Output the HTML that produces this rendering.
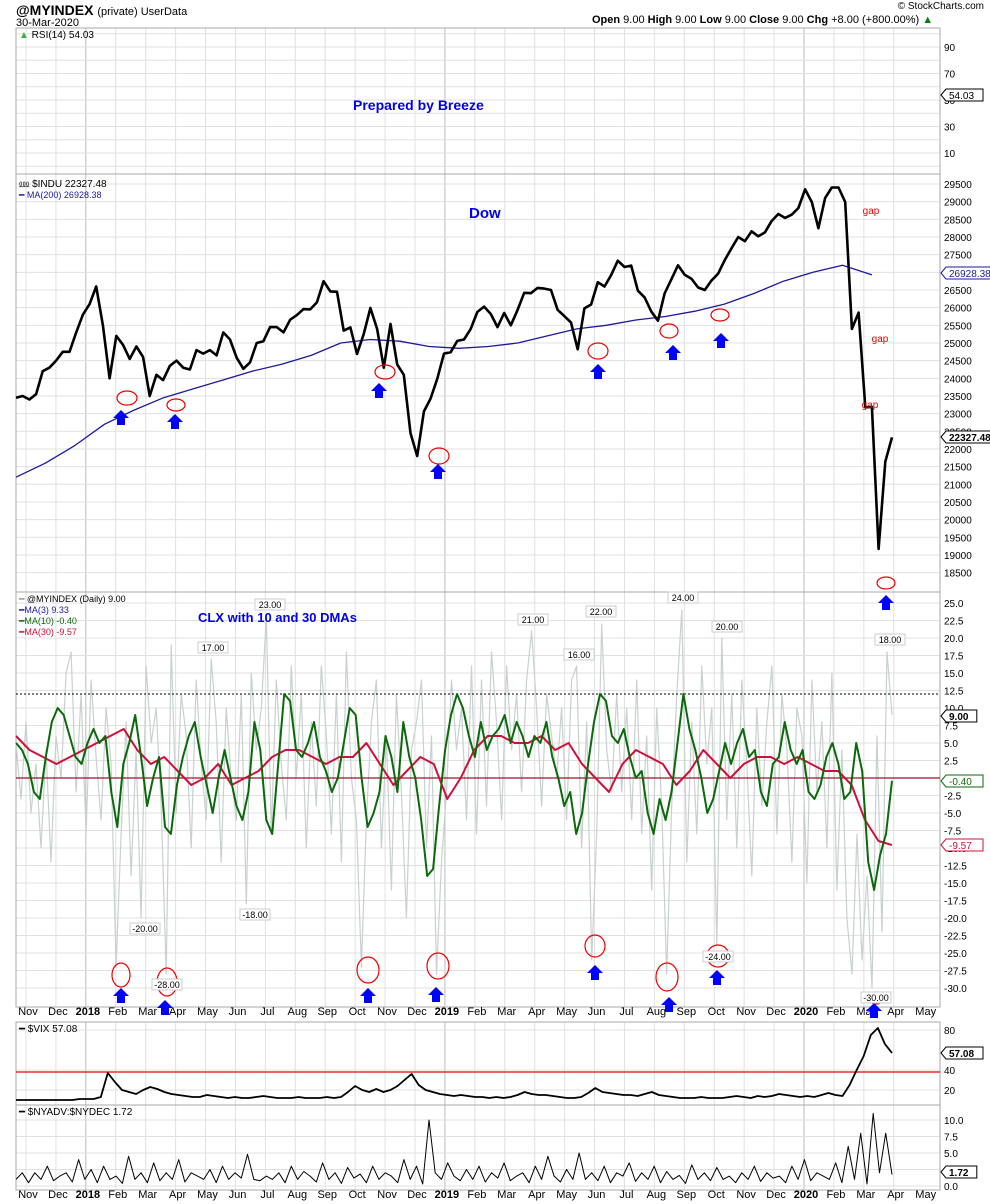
<!DOCTYPE html>
<html><head><meta charset="utf-8"><style>
body{margin:0;background:#fff}
svg{display:block;font-family:"Liberation Sans",sans-serif}
</style></head><body>
<svg id="c" width="990" height="1204" viewBox="0 0 990 1204" xmlns="http://www.w3.org/2000/svg"></svg>
<script>
// ---- data ----
const monthLabels=["Nov","Dec","2018","Feb","Mar","Apr","May","Jun","Jul","Aug","Sep","Oct","Nov","Dec","2019","Feb","Mar","Apr","May","Jun","Jul","Aug","Sep","Oct","Nov","Dec","2020","Feb","Mar","Apr","May"];
const dowWeekly=[23450,23500,23400,23550,24200,24300,24500,24750,24750,25300,25800,26100,26600,25500,24000,25200,24950,24550,24900,24600,23500,24100,23950,24350,24500,24300,24250,24800,24700,24800,24650,25300,25100,24580,24270,24450,25000,25050,25450,25450,25300,25660,25790,25960,25950,26150,26750,26460,26450,25350,25440,24690,25250,25990,25400,24300,25540,24390,24100,22450,21800,23060,23430,23990,24700,24740,25060,25100,25400,25880,26030,25820,25450,25850,25500,25930,26420,26410,26560,26540,26500,25940,25760,25580,24820,25980,26090,26720,26600,26920,27330,27150,27190,26480,26290,25890,25630,26400,26800,27200,26930,26820,26570,26500,26770,26960,27350,27680,28000,27880,28160,28020,28130,28450,28650,28540,28630,28820,29350,28990,28250,29100,29400,29400,28990,25400,25860,23180,23190,19170,21640,22330];
const ma200Monthly=[21200,21600,22100,22700,23100,23450,23700,23950,24200,24400,24650,25000,25100,25050,24900,24850,24900,25000,25200,25400,25500,25650,25750,25900,26100,26400,26750,27000,27200,26928];
const clxDaily=[5,-3,8,-5,2,-10,4,-12,6,0,15,18,-2,12,-8,14,3,-6,10,2,-27,-8,8,-14,4,-20,16,5,10,-4,-28,19,-5,12,6,-10,14,2,-6,17,8,-12,10,0,-6,12,-18,15,4,10,23,-8,14,2,-6,16,0,12,-10,8,-4,16,6,-8,12,-12,18,0,-6,-27,-6,8,14,-10,6,-16,12,-2,-20,4,8,14,-10,6,-28,-12,-2,14,4,10,-6,16,-8,14,-4,18,8,-6,16,4,12,-2,14,21,10,-4,12,6,0,10,-6,14,16,-10,8,-26,-8,22,4,-2,12,-2,10,-6,14,-8,6,-16,10,-4,-28,-4,12,24,-12,8,-8,16,2,10,-24,20,-6,12,-10,14,2,-14,10,-4,8,16,-8,12,4,-12,10,6,-15,14,-2,8,-10,15,-16,4,-20,-28,-8,-26,-14,-30,6,-22,18,9];
const ma10=[5,4,2,-2,-3,3,8,10,9,6,3,2,5,7,5,6,-2,-7,2,5,9,3,-4,0,3,-7,-8,-1,3,6,8,3,-1,-5,0,4,0,-4,-6,-2,8,4,-6,-8,2,12,11,4,3,5,8,3,1,-2,0,5,10,9,0,-7,-5,-2,6,3,-2,8,3,0,-6,-14,-13,-4,4,9,12,10,6,3,8,4,6,7,9,5,8,6,3,6,5,8,3,0,-4,-2,-8,-5,2,8,12,11,6,5,7,3,0,1,-5,-8,-3,-6,-2,5,12,7,4,0,-5,-3,1,5,2,5,7,3,4,-2,-4,2,3,8,4,2,4,-2,-3,-1,3,5,2,-3,-2,5,1,-12,-16,-11,-8,-0.4];
const ma30=[6,4,3,2,3,4,5,6,7,4,2,3,1,-1,0,2,-1,0,1,3,4,4,3,2,3,3,5,2,-1,1,3,2,-3,0,4,6,6,5,5,6,4,5,2,0,-2,2,4,3,2,-1,1,4,2,0,2,3,3,2,3,2,1,1,-1,-6,-9,-9.57];
const vixWeekly=[10,10,10,10,10,10,10,10,10,11,11,11,13,37,28,20,18,16,20,23,21,18,16,15,14,13,13,15,14,13,12,13,12,12,13,14,13,12,12,12,13,12,12,12,13,12,13,18,24,20,18,21,18,20,24,30,36,25,20,18,16,15,14,15,14,13,13,12,13,12,13,15,18,16,15,15,14,13,12,12,13,17,22,18,17,16,15,15,14,16,18,15,14,13,12,12,12,13,12,12,12,13,14,13,12,14,13,14,16,15,14,13,14,13,15,17,15,14,25,40,54,75,82,66,57];
const nyadvValues=[1,2,0.5,2,1,3,0.8,1.5,2,0.6,4,1,2.5,0.5,3,1,1.5,0.4,4.5,1,2,0.5,3.5,0.8,2,1,4,0.6,2,1.5,1,2.5,0.5,3,1,2,1.2,4.8,1,0.8,1.5,1,2,0.5,3,1,2.2,1.5,0.6,3.5,1,2,0.4,2.8,1.2,1.8,0.5,3,1,2,1.5,0.5,4,1,3,0.3,10,2,1,3.5,1.5,0.8,2.5,1,3,0.6,2,1.2,3.5,0.8,1.5,2,0.5,3,1,4.5,1.5,0.6,2.5,1,5,1,2,0.8,3,0.5,2,1.5,3.5,0.7,2,1,3,0.5,2.2,1,1.6,0.4,3.2,1,2,0.8,2.8,1,1.5,0.5,2,1,3,0.7,2,1.2,1.5,0.5,3,1,4,0.8,2,1.5,1,3.5,0.5,6,1,8,0.3,11,2,8,1.72];
const rsiTicks=[90,70,50,30,10];
const rsiGrid=[100,80,60,40,20,0];
const dowTicks=[29500,29000,28500,28000,27500,27000,26500,26000,25500,25000,24500,24000,23500,23000,22500,22000,21500,21000,20500,20000,19500,19000,18500];
const clxTicks=[25,22.5,20,17.5,15,12.5,10,7.5,5,2.5,0,-2.5,-5,-7.5,-10,-12.5,-15,-17.5,-20,-22.5,-25,-27.5,-30];
const vixTicks=[80,40,20];
const nyTicks=[10,7.5,5,2.5,0];
// ---- geometry ----
const L=16,R=940,X0=16,X1=892;
const svg=document.getElementById('c');const NS="http://www.w3.org/2000/svg";
function mk(t,a,p){const e=document.createElementNS(NS,t);for(const k in a)e.setAttribute(k,a[k]);(p||svg).appendChild(e);return e;}
function txt(x,y,s,a){const e=mk('text',Object.assign({x:x,y:y},a||{}));e.textContent=s;return e;}
const yRsi=v=>153-(v-10)*(153-47)/80;
const yDow=v=>184+(29500-v)*0.03533;
const yClx=v=>603+(25-v)*7;
const yVix=v=>1070-(v-40)*1.0;
const yNy=v=>1186-v*6.6;
function monthX(m){return 26+m*((804-26)/26);}
const panels=[[28,174],[174,592],[592,1007],[1022,1105],[1105,1190]];
panels.forEach((p,pi)=>{
  for(let m=0;m<monthLabels.length-1;m++){const x=monthX(m);if(x>R)continue;
    const g=mk('line',{x1:x,x2:x,y1:p[0],y2:p[1],stroke:(m==2||m==14||m==26)?'#bbb':'#e0e0e0','stroke-width':1});
    
    }
});
rsiGrid.forEach(t=>{const y=yRsi(t);if(y<29||y>173)return;const g=mk('line',{x1:L,x2:R,y1:y,y2:y,stroke:'#e0e0e0'});
  
  });
function hgrid(ticks,yf,p,name){ticks.forEach(t=>{const y=yf(t);
  const g=mk('line',{x1:L,x2:R,y1:y,y2:y,stroke:'#e0e0e0'});
  
  
  const l=txt(R+4,y+4,'',{'font-size':10,fill:'#000'});
  l.textContent=(name=='clx'||name=='nyadv')?t.toFixed(1):String(t);
  
  });}
hgrid(rsiTicks,yRsi,panels[0],'rsi');
hgrid(dowTicks,yDow,panels[1],'dow');
hgrid(clxTicks,yClx,panels[2],'clx');
hgrid(vixTicks,yVix,panels[3],'vix');
hgrid(nyTicks,yNy,panels[4],'nyadv');
panels.forEach(p=>{const r=mk('rect',{x:L,y:p[0],width:R-L,height:p[1]-p[0],fill:'none',stroke:'#aaa'});
  
  });
[1015,1198].forEach(yy=>{monthLabels.forEach((s,m)=>{const t=txt(monthX(m)+2,yy,s,{'font-size':11,'text-anchor':'middle','font-weight':/^\d/.test(s)?'bold':'normal'});
  
  });});
function poly(arr,yf,color,w,name,n0,n1){const n=arr.length;const a=n0==null?X0:n0,b=n1==null?X1:n1;
  const pts=arr.map((v,i)=>(a+i*(b-a)/(n-1)).toFixed(1)+','+yf(v).toFixed(1)).join(' ');
  const e=mk('polyline',{points:pts,fill:'none',stroke:color,'stroke-width':w,'stroke-linejoin':'round'});
  
  return e;}
poly(ma200Monthly,yDow,'#1a1a9a',1.3,'ma200-line',L,872);
poly(dowWeekly,yDow,'#000',2.6,'dow-price-line');
poly(clxDaily,yClx,'#c8d0d0',1.2,'clx-daily-line');
const z=mk('line',{x1:L,x2:R,y1:yClx(0),y2:yClx(0),stroke:'#a0102a','stroke-width':1.2});
const d=mk('line',{x1:L,x2:R,y1:yClx(12),y2:yClx(12),stroke:'#000','stroke-dasharray':'2,2'});
poly(ma30,yClx,'#d0103a',2,'ma30-line');
poly(ma10,yClx,'#0a6a0a',2,'ma10-line');
const rl=mk('line',{x1:L,x2:R,y1:1072,y2:1072,stroke:'#e00','stroke-width':1.3});
poly(vixWeekly,yVix,'#000',1.8,'vix-line');
poly(nyadvValues,yNy,'#000',1,'nyadv-line');
function circ(x,y,rx,ry){const e=mk('ellipse',{cx:x,cy:y,rx:rx,ry:ry,fill:'none',stroke:'#e00','stroke-width':1.2});}
function arrow(x,y){const e=mk('polygon',{points:`${x},${y} ${x+8},${y+8} ${x+4},${y+8} ${x+4},${y+15} ${x-4},${y+15} ${x-4},${y+8} ${x-8},${y+8}`,fill:'#0000ff'});}
[[127,398,10,7],[176,405,9,6],[385,372,10,7],[439,456,10,8],[598,351,10,8],[669,331,9,7],[720,315,9,6],[886,583,9,6]].forEach(c=>circ(...c));
[[121,410],[175,414],[379,383],[438,464],[598,364],[673,345],[721,333],[886,595]].forEach(a=>arrow(...a));
[[121,975,9,12],[167,982,10,14],[368,970,11,13],[438,966,11,13],[595,946,10,11],[667,977,11,14],[718,956,11,11],[876,998,7,6]].forEach(c=>circ(...c));
[[121,988],[165,1000],[368,988],[436,987],[595,965],[669,997],[717,970],[874,1003]].forEach(a=>arrow(...a));
[[871,214],[880,342],[870,408]].forEach(g=>{const t=txt(g[0],g[1],'gap',{'font-size':10,fill:'#e00','text-anchor':'middle'});});
[["23.00",270,607],["17.00",213,650],["-20.00",145,931],["-28.00",167,987],["-18.00",255,917],["21.00",533,622],["16.00",579,657],["22.00",601,614],["24.00",683,600],["20.00",727,629],["-24.00",718,959],["-30.00",876,1000],["18.00",890,642]].forEach(c=>{
  const r=mk('rect',{x:c[1]-15,y:c[2]-8,width:30,height:11,fill:'#fff',stroke:'#ccc'});
  const t=txt(c[1],c[2]+1,c[0],{'font-size':9,'text-anchor':'middle'});});
[["54.03",95,'#000',"#000"],["26928.38",273,'#1a1a9a','#1a1a9a'],["22327.48",437,'#000','#000'],["9.00",716,'#000','#000'],["-0.40",781,'#0a6a0a','#0a6a0a'],["-9.57",845,'#d0103a','#d0103a'],["57.08",1053,'#000','#000'],["1.72",1172,'#000','#000']].forEach(t=>{
  const w=t[0].length*6.2+6;
  const p=mk('polygon',{points:`${R+1},${t[1]} ${R+6},${t[1]-6} ${R+6+w},${t[1]-6} ${R+6+w},${t[1]+6} ${R+6},${t[1]+6}`,fill:'#fff',stroke:t[2]});
  const s=txt(R+9,t[1]+4,t[0],{'font-size':10,fill:t[3],'font-weight':(t[0]=='9.00'||t[0]=='57.08'||t[0]=='22327.48'||t[0]=='1.72')?'bold':'normal'});});
</script>
<div style="position:absolute;left:0;top:0;width:990px;height:1204px;pointer-events:none;font-family:'Liberation Sans',sans-serif">
<div style="position:absolute;left:16px;top:2px;font-size:14px;font-weight:bold">@MYINDEX <span style="font-weight:normal;font-size:11px">(private) UserData</span></div>
<div style="position:absolute;left:16px;top:17px;font-size:11px">30-Mar-2020</div>
<div style="position:absolute;right:6px;top:1px;font-size:10px">© StockCharts.com</div>
<div style="position:absolute;left:592px;top:14px;font-size:11px"><b>Open</b> 9.00 <b>High</b> 9.00 <b>Low</b> 9.00 <b>Close</b> 9.00 <b>Chg</b> +8.00 (+800.00%) <span style="color:#080">▲</span></div>
<div style="position:absolute;left:19px;top:30px;font-size:10px"><span style="color:#4a4">▲</span> RSI(14) 54.03</div>
<div style="position:absolute;left:19px;top:176px;font-size:10px">⅏ $INDU 22327.48<br><span style="color:#1a1a9a;font-size:9px">━ MA(200) 26928.38</span></div>
<div style="position:absolute;left:19px;top:594px;font-size:9px;line-height:11px"><span style="color:#999">━</span> @MYINDEX (Daily) 9.00<br><span style="color:#1a1a9a">━MA(3) 9.33</span><br><span style="color:#0a6a0a">━MA(10) -0.40</span><br><span style="color:#d0103a">━MA(30) -9.57</span></div>
<div style="position:absolute;left:19px;top:1024px;font-size:10px">━ $VIX 57.08</div>
<div style="position:absolute;left:19px;top:1107px;font-size:10px">━ $NYADV:$NYDEC 1.72</div>
<div style="position:absolute;left:353px;top:97px;font-size:14px;font-weight:bold;color:#0000ee">Prepared by Breeze</div>
<div style="position:absolute;left:469px;top:205px;font-size:15px;font-weight:bold;color:#0000ee">Dow</div>
<div style="position:absolute;left:198px;top:610px;font-size:13px;font-weight:bold;color:#0000ee">CLX with 10 and 30 DMAs</div>
</div>
</body></html>
